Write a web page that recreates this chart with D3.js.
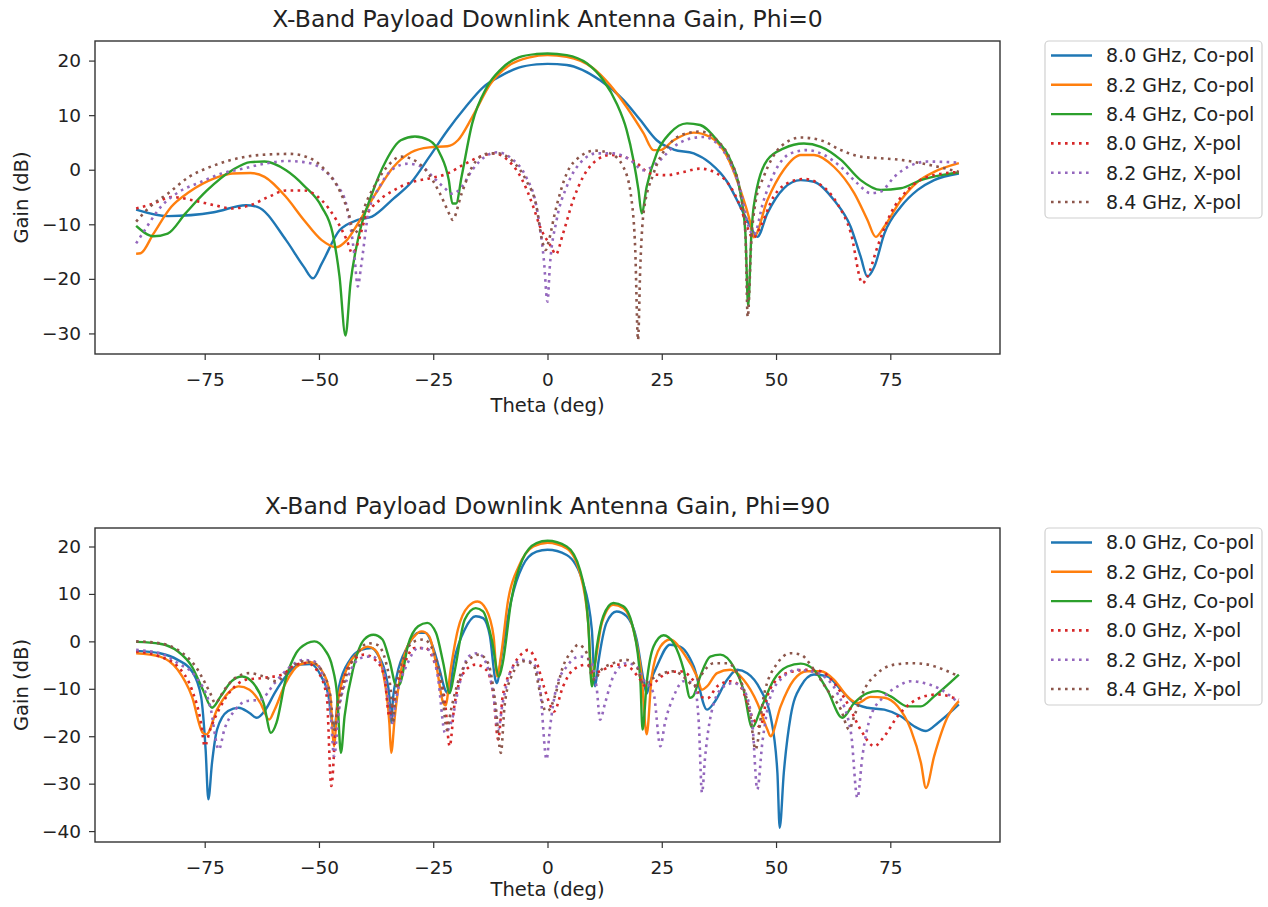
<!DOCTYPE html>
<html>
<head>
<meta charset="utf-8">
<script src="https://cdn.jsdelivr.net/npm/d3@7/dist/d3.min.js"></script>
<style>
  html, body { margin: 0; padding: 0; background: #fff; }
  svg { display: block; font-family: "DejaVu Sans", sans-serif; }
</style>
</head>
<body>
<svg id="chart" width="1268" height="907"></svg>
<script>
// ---------- Data (theta in deg, gain in dB) ----------
const seriesLabels = ["8.0 GHz, Co-pol", "8.2 GHz, Co-pol", "8.4 GHz, Co-pol",
                      "8.0 GHz, X-pol", "8.2 GHz, X-pol", "8.4 GHz, X-pol"];
const xTicks = [-75, -50, -25, 0, 25, 50, 75];
const yTicksTop = [20, 10, 0, -10, -20, -30];
const yTicksBottom = [20, 10, 0, -10, -20, -30, -40];
const titles = ["X-Band Payload Downlink Antenna Gain, Phi=0", "X-Band Payload Downlink Antenna Gain, Phi=90"];

// Phi = 0
const phi0_co80 = [[-90,-7.3],[-83,-8.5],[-73,-7.8],[-66,-6.5],[-63.5,-6.8],[-57.2,-12.9],[-53.3,-17.8],[-51.3,-19.9],[-49.4,-17.2],[-45.5,-11.1],[-41.5,-9.2],[-38.4,-8.6],[-33.7,-5.3],[-29.8,-2.3],[-25.9,2.3],[-21.9,7.2],[-18,11.4],[-14.1,15.1],[-10.2,17.2],[-6.3,18.7],[-2.4,19.3],[0,19.4],[4.2,19.2],[11.5,16.4],[16.6,12.8],[20.3,9.1],[23.9,5.4],[27.6,3.7],[32,3.0],[35.6,1.2],[39.3,-2.2],[42.2,-6.8],[44.4,-10.4],[45.9,-12.3],[48.1,-8],[51.7,-3.4],[55.4,-1.9],[58.3,-2.2],[62.7,-5.6],[66.3,-10.4],[68.5,-15.9],[70,-19.6],[71.5,-17.8],[73.7,-11.7],[77.3,-6.8],[81,-3.7],[84.6,-1.9],[90,-0.7]];
const phi0_co82 = [[-90,-15.4],[-89,-15.3],[-86.2,-11.7],[-82.3,-6.8],[-78.4,-4.1],[-72.9,-1.6],[-69,-0.7],[-65,-0.6],[-61.9,-1.3],[-57.2,-5],[-53.3,-9.2],[-49.4,-12.9],[-46.2,-14.2],[-43.9,-12.9],[-41.5,-9.9],[-37.6,-4.4],[-33.7,0.5],[-29.8,3.2],[-25.9,4.1],[-21.9,4.3],[-19.6,5.4],[-16.5,9.6],[-12.5,15.7],[-8.6,19],[-3.9,20.6],[0,21],[4.2,20.7],[10,18.6],[13.7,15.5],[17.3,11.5],[21,6.7],[23.2,3.6],[24.7,3.6],[27.6,5.4],[32,6.8],[35.6,6],[39.3,2.4],[42.2,-3.7],[44.4,-9.8],[45.1,-12.4],[48.1,-5.6],[51.7,0],[55.4,2.7],[58.3,2.7],[62.7,0.5],[67.1,-4.3],[70,-9.2],[71.8,-12.3],[73.7,-10.4],[77.3,-5.6],[81,-2.2],[84.6,-0.4],[90,1.2]];
const phi0_co84 = [[-90,-10.3],[-86.2,-12.2],[-83.1,-11.7],[-79.2,-8],[-74.5,-3.8],[-69,-0.1],[-65,1.4],[-61.9,1.5],[-57.2,-0.1],[-53.3,-2.9],[-49.4,-6.8],[-47,-11.7],[-45.5,-19.6],[-44.2,-30.4],[-43.1,-20.8],[-41.5,-12.9],[-38.4,-4.4],[-35.3,1.7],[-32.1,5.4],[-29,6.1],[-25.9,5.4],[-23.5,2.9],[-21.6,-1.9],[-20.8,-6.2],[-20,-6.2],[-18.8,-1.3],[-16.5,8.4],[-13.3,15.1],[-10.2,18.4],[-6.3,20.6],[-2.4,21.2],[0,21.3],[4.2,21],[8.6,19.5],[12.2,16.4],[15.1,12.2],[17.3,7.3],[18.8,1.8],[19.9,-3.7],[20.6,-8],[21.7,-3.1],[23.9,3],[26.8,6.7],[30.5,8.5],[33.4,8.2],[37.1,5.4],[40,1.8],[42.2,-4.3],[43.3,-11.7],[43.9,-25],[44.6,-12],[45.1,-6.8],[48.1,1.8],[51.7,3.9],[56.1,4.8],[59.8,4.2],[64.2,1.8],[68.5,-1.9],[72.9,-3.7],[77.3,-3.4],[81.7,-1.9],[86.1,-1],[90,-0.5]];
const phi0_xp80 = [[-90,-7.1],[-86.2,-6.2],[-82.3,-5],[-77.6,-5.6],[-72.9,-6.5],[-69,-7.1],[-65,-6.5],[-61.1,-5],[-57.2,-3.8],[-53.3,-3.8],[-49.4,-5.6],[-46.2,-9.2],[-43.9,-12.9],[-42.7,-15.3],[-41.5,-13.5],[-40,-9.2],[-36.8,-5.6],[-33.7,-3.8],[-29.8,-2.3],[-25.9,-1.6],[-21.9,-0.7],[-18,1.1],[-14.1,2.6],[-11.8,3],[-8.6,1.7],[-5.5,-1.9],[-3.1,-6.8],[-1.6,-10.5],[0.8,-14.1],[1.8,-15.5],[3.4,-11.7],[5.6,-5.6],[7.8,-1.3],[10.8,1.8],[13.7,2.7],[16.6,2.4],[19.5,1.2],[22.5,-0.7],[26.1,-1],[29.8,-0.4],[33.4,0.2],[37.1,-0.7],[40,-3.1],[42.2,-6.8],[43.7,-10.5],[45,-12.5],[46.6,-10.4],[49.5,-4.9],[53.2,-2.2],[56.1,-1.7],[59.8,-2.8],[63.4,-6.2],[66.4,-11.7],[68.9,-20.8],[70,-19.6],[72.2,-14.1],[75.1,-8],[78.8,-3.7],[83.2,-1.3],[90,-0.4]];
const phi0_xp82 = [[-90,-13.5],[-88.6,-11.7],[-84.6,-6.8],[-80.7,-4.1],[-76,-2.3],[-71.3,-0.7],[-66.6,0.2],[-61.9,1.1],[-57.2,1.6],[-53.3,1.4],[-49.4,0.2],[-46.2,-2.6],[-43.9,-6.8],[-42.3,-15.3],[-41.5,-21.4],[-40.8,-17.8],[-39.2,-8],[-36.8,-3.2],[-33.7,0.2],[-30.6,1.1],[-27.4,0.5],[-25.1,-1.3],[-22.7,-3.2],[-20.8,-4.4],[-18.8,-3.2],[-16.5,-0.1],[-13.3,2.6],[-11,3.2],[-7.8,2],[-4.7,-1.3],[-2.4,-6.8],[-0.8,-16.5],[0,-24.2],[0.5,-17.8],[2,-9.2],[4.2,-3.1],[7.1,1.2],[10.8,3],[14.4,3],[18.1,1.8],[21,-0.1],[23.9,1.2],[27.6,4.2],[31.2,5.7],[34.2,6],[37.1,4.8],[40,1.2],[42.2,-3.7],[44,-10.4],[45.1,-12],[47.3,-5.6],[50.3,0.5],[53.2,3],[56.8,3.6],[60.5,2.7],[64.2,0.5],[67.8,-2.5],[70.7,-4.3],[72.9,-4],[75.9,-1.3],[78.8,0.5],[83.2,1.5],[90,1.3]];
const phi0_xp84 = [[-90,-9.5],[-87,-6.8],[-83.1,-4.4],[-78.4,-1.3],[-72.9,0.8],[-66.6,2.3],[-61.1,2.8],[-56.4,2.9],[-52.5,2.3],[-48.6,-0.1],[-45.5,-3.8],[-43.5,-8],[-42.3,-11.7],[-41.5,-11],[-40,-6.8],[-37.6,-2.6],[-34.5,1.1],[-32.1,2.4],[-29.8,2],[-26.6,-0.1],[-23.5,-4.4],[-21.2,-8.6],[-20.8,-9.2],[-18.8,-4.4],[-16.5,0.5],[-13.3,2.9],[-11,3],[-7.8,1.7],[-4.7,-1.9],[-2.4,-6.8],[-1.2,-12.9],[-0.4,-14.7],[0.3,-13],[1.6,-8],[4.2,-0.7],[7.1,2.4],[10.4,3.5],[13.7,3],[16.6,0.5],[18.4,-5.6],[19.2,-14.7],[19.8,-31.2],[20.3,-17.8],[21,-8],[23.2,-0.7],[26.8,4.8],[30.5,6.7],[33.4,7],[37.1,5.4],[40,1.8],[42.2,-4.3],[43.3,-11.7],[43.8,-27],[44.6,-13],[45.5,-6],[47.3,-1.3],[51,4.2],[55.4,5.9],[59.8,5.4],[64.2,3.6],[68.5,2.4],[72.9,2.1],[77.3,1.8],[81.7,1.2],[90,-0.4]];

// Phi = 90
const phi90_co80 = [[-90,-2],[-84.8,-2.5],[-80.9,-3.9],[-77.8,-6.3],[-75.8,-11.6],[-74.8,-22.8],[-74.2,-33.3],[-73.4,-25.6],[-72.3,-18.6],[-69.9,-14.7],[-67.6,-14],[-65.2,-15.1],[-63.6,-16.1],[-61.7,-14.4],[-59.7,-10.9],[-57.3,-7.4],[-54.2,-4.9],[-51.8,-4.8],[-49.5,-7.4],[-47.9,-11.6],[-47.1,-17],[-46.6,-18],[-45.6,-9.5],[-43.2,-3.9],[-40.8,-1.8],[-38.5,-1.4],[-36.9,-3.2],[-35.3,-7.4],[-34.6,-11.6],[-34.2,-17.2],[-33.8,-12],[-33,-7.4],[-30.6,-1.1],[-28.3,1.8],[-26.7,1.8],[-25.1,-1.1],[-23.6,-6],[-22.4,-10.2],[-21.7,-11],[-20.4,-3.9],[-18.1,2.5],[-15.7,5.3],[-14.1,4.9],[-12.6,1.1],[-11.4,-8.1],[-11,-8.8],[-10.2,-3.9],[-7.9,8.8],[-5.5,15.8],[-2.4,18.9],[0,19.3],[4.2,18.2],[7.8,12.3],[9.7,2.5],[10.4,-9.5],[11.1,-4.6],[12.9,3.9],[15.1,6.3],[17.3,5.3],[19.5,0.4],[21,-8.1],[21.7,-11],[22.3,-9],[23.9,-5.3],[26.8,-0.7],[29,-1.1],[32,-5.3],[34.9,-14.4],[36.4,-13],[39.3,-8.1],[41.5,-6],[43.7,-6.7],[46.6,-10.2],[48.8,-15.8],[50.3,-27.7],[50.8,-39.3],[51.7,-27.7],[53.2,-15.8],[55.4,-9.5],[58.3,-7],[61.2,-7.4],[64.2,-10.2],[67.1,-13],[70,-14],[73.7,-14.4],[77.3,-15.8],[80.2,-17.9],[82.8,-18.9],[85.4,-17.2],[90,-13.3]];
const phi90_co82 = [[-90,-2.5],[-84.8,-3.2],[-80.9,-6],[-77.8,-11.6],[-75.4,-19.3],[-74.6,-19.6],[-72.3,-14.4],[-69.9,-10.9],[-67.6,-9.5],[-65.2,-10.2],[-62.8,-13],[-60.9,-16.5],[-59.7,-14.4],[-57.3,-8.8],[-54.2,-4.9],[-51.8,-4.4],[-49.5,-6],[-47.5,-11.6],[-46.7,-22.1],[-46,-13.7],[-44,-6],[-41.6,-2.5],[-39.3,-1.1],[-37.7,-1.8],[-36.1,-6],[-34.6,-17.2],[-34.2,-23.5],[-33.4,-15.8],[-31.4,-3.2],[-29.1,1.1],[-27.5,2.1],[-25.9,1.1],[-24.4,-4.6],[-22.8,-13],[-22.3,-13.5],[-21.2,-6],[-19.6,2.5],[-17.3,7.4],[-15.3,8.4],[-13.4,6.7],[-11.8,1.1],[-11,-7.4],[-10.2,-3.2],[-8.6,8.8],[-6.3,15.8],[-3.1,20],[0,20.8],[4.2,19.6],[7.1,14.4],[8.9,3.9],[9.7,-7.4],[10.4,-4.6],[11.9,3.9],[14.4,7.7],[16.6,7],[18.8,2.5],[20.6,-7.4],[21.7,-19.6],[22.8,-7.4],[24.7,-1.1],[26.8,0.4],[29.8,-2.5],[32.7,-7.4],[33.8,-10.2],[34.9,-9.5],[37.1,-6.7],[40,-6],[42.9,-8.1],[45.9,-13],[48.1,-18.6],[48.8,-20],[51,-13.7],[53.9,-8.1],[56.8,-6.3],[59.8,-6.3],[62.7,-8.1],[65.6,-11.6],[67.8,-13],[70.7,-11.7],[73.7,-11.9],[76.6,-13.7],[79.5,-18.6],[81.7,-25.6],[82.8,-30.9],[84.6,-24.2],[87.6,-15.8],[90,-12.6]];
const phi90_co84 = [[-90,-0.1],[-84.8,-0.5],[-80.9,-2.1],[-77.8,-5.3],[-75.4,-10.2],[-73.4,-14],[-71.5,-11.6],[-69.1,-8.4],[-66.8,-7.4],[-64.4,-8.8],[-62.1,-13],[-60.5,-19.3],[-59.3,-17.2],[-57.3,-8.1],[-55,-2.5],[-52.6,-0.4],[-51,0],[-48.7,-1.8],[-47.1,-5.3],[-46,-11.6],[-45.2,-23.5],[-44.4,-15.8],[-42.4,-5.3],[-40.1,0.4],[-38.1,1.4],[-36.1,0.4],[-34.6,-3.9],[-33,-9.5],[-32.2,-8.8],[-30.6,-1.1],[-28.3,3.2],[-26.3,3.9],[-24.4,1.8],[-22.8,-4.6],[-21.4,-10.9],[-20.4,-6.7],[-18.1,4.6],[-15.7,7],[-14.1,6.3],[-12.2,0.4],[-10.6,-7.4],[-9.8,-4.6],[-7.9,8.8],[-5.5,17.2],[-2.4,20.7],[0,21.2],[4.2,20],[7.1,15.1],[8.9,3.9],[9.7,-9.5],[10.8,-1.1],[12.2,5.3],[14.4,8.1],[16.6,7.4],[18.8,2.5],[20.3,-8.1],[20.8,-18.6],[21.7,-8.8],[23.2,-1.1],[25.4,1.3],[27.6,-0.4],[29.8,-6],[31.2,-11.9],[31.9,-11.5],[33.4,-7.4],[35.6,-3.2],[37.8,-2.8],[40.7,-5.3],[42.9,-10.2],[44.8,-18.2],[46.6,-14.4],[49.5,-8.1],[52.5,-5.3],[55.4,-4.7],[58.3,-6],[61.2,-10.2],[64.5,-16.1],[67.1,-13],[70,-10.9],[72.2,-10.5],[75.1,-11.6],[78.8,-13.7],[81.7,-13.7],[84.6,-11.6],[90,-7]];
const phi90_xp80 = [[-90,-2.1],[-84.8,-3.2],[-80.9,-5.3],[-77.8,-10.2],[-75.8,-17.2],[-75,-22.1],[-73.8,-18.6],[-71.5,-13.7],[-69.1,-10.2],[-66,-8.1],[-62.1,-7.7],[-58.1,-7],[-55,-4.9],[-52.6,-4.6],[-50.3,-6.3],[-48.3,-11.6],[-47.3,-30.5],[-46.3,-17.2],[-44.8,-8.8],[-42.4,-3.9],[-40.1,-2.8],[-37.7,-3.9],[-35.7,-7.4],[-34.6,-15.8],[-33.8,-13],[-32.2,-7.4],[-29.1,-1.4],[-26.7,-1.4],[-24.4,-5.3],[-22.4,-13],[-21.4,-22.1],[-20.4,-13.7],[-18.1,-6.3],[-15.7,-4.9],[-13.4,-6],[-11.8,-11.6],[-10.8,-20.7],[-9.8,-11.6],[-7.9,-6],[-5.5,-2.5],[-4.2,-1.8],[-2.4,-4.4],[-0.8,-9.5],[0.8,-13.9],[1.4,-14.8],[3.4,-9.5],[5.6,-6],[8.6,-4.9],[10.4,-6.7],[11.5,-6.3],[13.7,-5.3],[15.9,-4.9],[18.1,-5.6],[20.3,-8.1],[21.5,-9.5],[23.2,-8.8],[26.1,-6.7],[29,-6.3],[32,-8.4],[33.4,-11.6],[35,-12],[37.1,-9.5],[40,-8.4],[42.2,-9.5],[45.1,-16.5],[46.5,-18],[48.1,-11.6],[51,-7.4],[53.9,-6.3],[56.8,-6],[59.8,-6.3],[62.7,-8.8],[65.6,-13],[68.5,-18.6],[71.5,-22.1],[73.7,-20],[76.6,-15.8],[79.5,-13],[82.4,-11.6],[85.4,-11.2],[90,-12.3]];
const phi90_xp82 = [[-90,-1.8],[-84.8,-2.5],[-80.9,-4.6],[-77,-7.4],[-73.8,-13.7],[-71.9,-22.8],[-70.7,-18.6],[-68.3,-14.4],[-66,-12.6],[-62.8,-12.3],[-59.7,-8.8],[-56.6,-5.6],[-53.4,-3.9],[-51.1,-4.2],[-49.1,-7.4],[-47.5,-14.4],[-46.7,-24.2],[-45.6,-14.4],[-43.6,-7.4],[-40.8,-3.5],[-38.5,-3.2],[-36.1,-5.3],[-34.6,-13.7],[-34,-17.2],[-33,-11.6],[-30.6,-4.6],[-28.3,-1.4],[-25.9,-1.8],[-24,-7.4],[-22.4,-19.3],[-21.1,-17.2],[-19.2,-8.8],[-17.3,-3.2],[-15.3,-2.5],[-13.4,-4.6],[-11.8,-11.6],[-10.8,-18.6],[-9.8,-13],[-7.9,-6],[-5.5,-3.9],[-3.1,-4.6],[-1.6,-10.2],[-0.2,-24.9],[0.5,-18.6],[2,-9.5],[4.2,-5.3],[7.1,-3.2],[9.3,-3.9],[10.8,-10.2],[11.5,-16.5],[12.6,-13],[14.4,-7.4],[17.3,-4.6],[19.5,-5.3],[21,-8.1],[23.2,-10.9],[24.7,-22.1],[25.7,-17.2],[27.6,-11.6],[29.8,-8.4],[32,-8.8],[33.1,-17.2],[33.8,-31.9],[34.5,-24.2],[36.4,-13],[38.6,-9.5],[40.7,-8.8],[42.9,-10.2],[44.8,-17.2],[45.9,-31.2],[47,-21.4],[48.8,-11.6],[51.7,-7.4],[54.6,-6],[57.5,-6.3],[60.5,-7.4],[63.4,-10.9],[66.4,-19.3],[67.8,-33],[68.9,-24.2],[70.7,-15.8],[73.7,-11.6],[76.6,-9.5],[79.5,-8.4],[82.4,-8.8],[85.4,-9.8],[90,-13]];
const phi90_xp84 = [[-90,0],[-84.8,-0.4],[-80.9,-1.8],[-77,-5.3],[-73.8,-10.9],[-72.7,-13],[-70.7,-10.2],[-68.3,-7.7],[-65.2,-6.7],[-62.1,-7.4],[-59.3,-8.4],[-55.8,-5.3],[-53.4,-4.2],[-51.1,-4.6],[-49.1,-6.7],[-47.5,-11.6],[-46.7,-18.6],[-45.7,-13.7],[-43.6,-6],[-41.6,-2.5],[-39.3,-0.4],[-37.3,-0.7],[-35.3,-4.6],[-34.2,-11.6],[-33.8,-17.2],[-33.2,-10.2],[-31.4,-3.2],[-29.1,0],[-27.1,0.4],[-25.1,-1.8],[-23.2,-8.8],[-22,-18.6],[-21.1,-14.4],[-19.2,-7.4],[-17.3,-3.9],[-14.9,-2.8],[-13,-4.6],[-11.4,-13],[-10.2,-23.5],[-9.4,-13.7],[-7.9,-7.4],[-5.1,-4.2],[-3.1,-4.9],[-1.6,-10.9],[-0.4,-14.7],[0.3,-14.5],[1.6,-11.6],[3.4,-5.3],[5.6,-1.8],[6.7,-0.7],[8.6,-2.5],[9.7,-7.4],[10.4,-8.1],[11.5,-6.3],[14.4,-4.6],[17.3,-3.9],[19.5,-5.3],[21,-9],[22.5,-8.1],[25.4,-6.7],[27.6,-6.3],[30.5,-8.1],[32,-9.5],[33.4,-7.4],[36.4,-4.6],[39.3,-4.6],[42.2,-8.1],[44.4,-15.8],[45.5,-22.8],[47.3,-11.6],[50.3,-4.6],[53.2,-2.5],[55.4,-2.8],[58.3,-6],[61.2,-10.2],[64.2,-14.4],[66,-18.6],[67.1,-15.8],[69.3,-10.2],[72.2,-6.7],[75.9,-4.9],[79.5,-4.6],[83.2,-4.9],[86.8,-6],[90,-7.4]];

// ---------- Styles ----------
const colors = ["#1f77b4", "#ff7f0e", "#2ca02c", "#d62728", "#9467bd", "#8c564b"];
const dotted = [false, false, false, true, true, true];

const panels = [
  { title: titles[0], data: [phi0_co80, phi0_co82, phi0_co84, phi0_xp80, phi0_xp82, phi0_xp84],
    top: 41, bottom: 354, ydom: [-33.77, 23.59], yTicks: yTicksTop, xlabOff: 58 },
  { title: titles[1], data: [phi90_co80, phi90_co82, phi90_co84, phi90_xp80, phi90_xp82, phi90_xp84],
    top: 528, bottom: 842, ydom: [-42.3, 23.9], yTicks: yTicksBottom, xlabOff: 54 }
];

const svg = d3.select("#chart");
const left = 95, right = 1000;
const textColor = "#222";
const fmt = v => (v < 0 ? "\u2212" + Math.abs(v) : String(v));

panels.forEach((p, pi) => {
  const x = d3.scaleLinear().domain([-99, 99]).range([left, right]);
  const y = d3.scaleLinear().domain(p.ydom).range([p.bottom, p.top]);
  const g = svg.append("g");

  const clipId = "clip" + pi;
  svg.append("clipPath").attr("id", clipId).append("rect")
    .attr("x", left).attr("y", p.top).attr("width", right - left).attr("height", p.bottom - p.top);

  const line = d3.line().x(d => x(d[0])).y(d => y(d[1])).curve(d3.curveMonotoneX);
  p.data.forEach((s, i) => {
    g.append("path").datum(s)
      .attr("d", line)
      .attr("clip-path", `url(#${clipId})`)
      .attr("fill", "none")
      .attr("stroke", colors[i])
      .attr("stroke-width", dotted[i] ? 2.6 : 2.4)
      .attr("stroke-dasharray", dotted[i] ? "2.6 4.4" : null)
      .attr("stroke-linejoin", "round");
  });

  // axes
  const xAxis = d3.axisBottom(x).tickValues(xTicks).tickFormat(fmt).tickSize(6).tickPadding(13);
  const yAxis = d3.axisLeft(y).tickValues(p.yTicks).tickFormat(fmt).tickSize(6).tickPadding(8);
  const gx = g.append("g").attr("transform", `translate(0,${p.bottom})`).call(xAxis);
  const gy = g.append("g").attr("transform", `translate(${left},0)`).call(yAxis);
  [gx, gy].forEach(a => {
    a.select(".domain").remove();
    a.selectAll(".tick line").attr("stroke", "#333").attr("stroke-width", 1.2);
    a.selectAll(".tick text").attr("fill", textColor).style("font-size", "18.5px")
      .style("font-family", "DejaVu Sans, sans-serif");
  });

  // frame
  g.append("rect").attr("x", left).attr("y", p.top)
    .attr("width", right - left).attr("height", p.bottom - p.top)
    .attr("fill", "none").attr("stroke", "#333").attr("stroke-width", 1.4);

  // title
  g.append("text").attr("x", (left + right) / 2).attr("y", p.top - 14)
    .attr("text-anchor", "middle").attr("fill", textColor)
    .style("font-size", "23.5px").text(p.title);
  // axis labels
  g.append("text").attr("x", (left + right) / 2).attr("y", p.bottom + p.xlabOff)
    .attr("text-anchor", "middle").attr("fill", textColor)
    .style("font-size", "19.5px").text("Theta (deg)");
  g.append("text").attr("transform", `translate(28,${(p.top + p.bottom) / 2}) rotate(-90)`)
    .attr("text-anchor", "middle").attr("fill", textColor)
    .style("font-size", "19.5px").text("Gain (dB)");

  // legend
  const lx = 1045, ly = p.top, lw = 217, lh = 177, rowH = 29.3;
  const lg = svg.append("g");
  lg.append("rect").attr("x", lx).attr("y", ly).attr("width", lw).attr("height", lh)
    .attr("rx", 4).attr("fill", "#fff").attr("stroke", "#d0d0d0").attr("stroke-width", 1.2);
  seriesLabels.forEach((lab, i) => {
    const cy = ly + 14.5 + i * rowH;
    lg.append("line").attr("x1", lx + 6).attr("x2", lx + 47).attr("y1", cy).attr("y2", cy)
      .attr("stroke", colors[i]).attr("stroke-width", dotted[i] ? 2.6 : 2.4)
      .attr("stroke-dasharray", dotted[i] ? "2.6 4.4" : null);
    lg.append("text").attr("x", lx + 61).attr("y", cy).attr("dy", "0.36em")
      .attr("fill", textColor).style("font-size", "19px").text(lab);
  });
});
</script>
</body>
</html>
